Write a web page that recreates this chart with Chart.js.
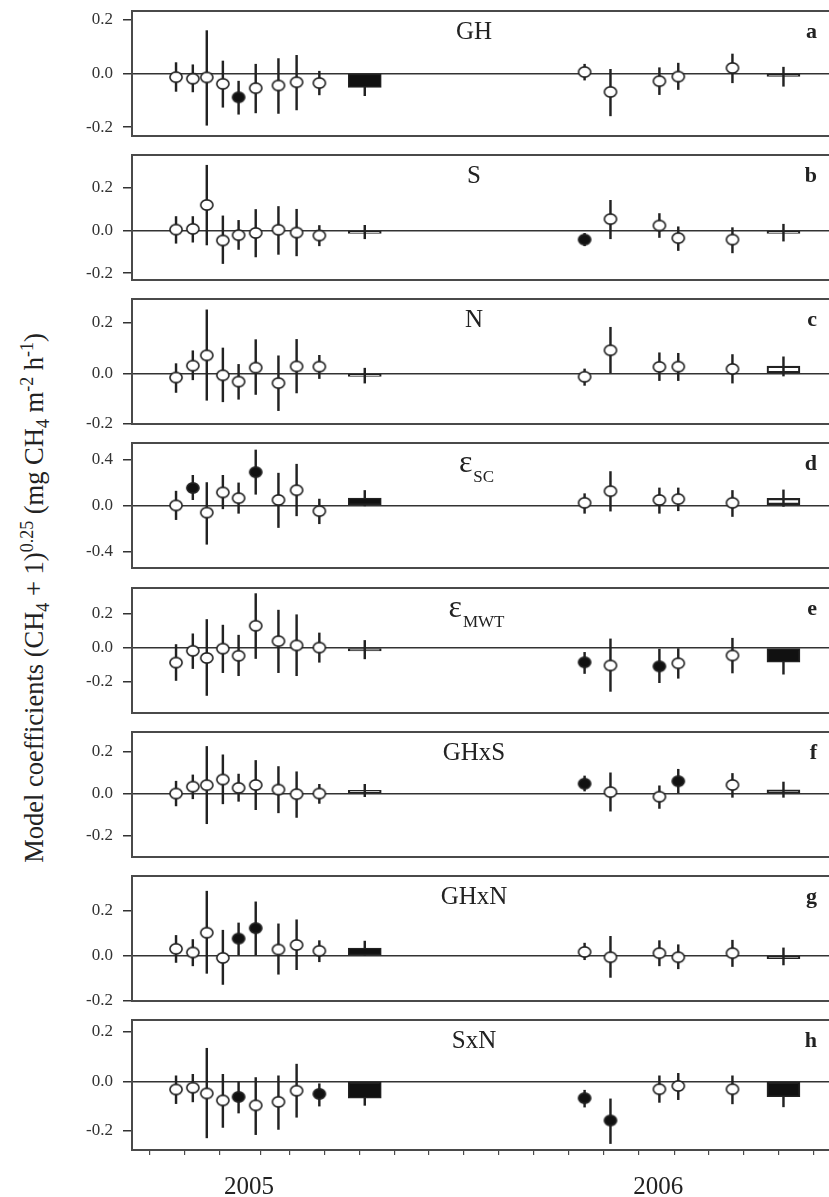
<!DOCTYPE html>
<html>
<head>
<meta charset="utf-8">
<script src="https://cdn.jsdelivr.net/npm/chart.js@4.4.1/dist/chart.umd.min.js"></script>
<style>
  html, body { margin: 0; padding: 0; background: #fff; overflow: hidden; }
  body { width: 829px; height: 1197px; position: relative; }
  canvas { position: absolute; left: 0; }
  #ytitle {
    position: absolute; left: 35px; top: 598px;
    transform: translate(-50%, -50%) rotate(-90deg);
    white-space: nowrap; font: 26.5px "Liberation Serif", serif; color: #222; line-height: 1;
  }
  #ytitle sub, #ytitle sup { font-size: 18px; }
</style>
</head>
<body>
<div id="ytitle">Model coefficients (CH<sub>4</sub> + 1)<sup>0.25</sup> (mg CH<sub>4</sub> m<sup>-2</sup> h<sup>-1</sup>)</div>
<script>
// sampling dates, in x-tick units from the left edge (2005 then 2006)
const sampleX = [1.26, 1.74, 2.14, 2.60, 3.05, 3.54, 4.19, 4.71, 5.36, 12.95, 13.69, 15.09, 15.63, 17.18];
// position of the yearly summary bars
const summaryX = [6.66, 18.64];
const yearLabels = ['2005', '2006'];
const yearX = [3.35, 15.06];

const panelTitles = ['GH', 'S', 'N', 'ε', 'ε', 'GHxS', 'GHxN', 'SxN'];
const panelSubs = ['', '', '', 'SC', 'MWT', '', '', ''];
const panelLetters = ['a', 'b', 'c', 'd', 'e', 'f', 'g', 'h'];

const yTicks = [
  [-0.2, 0, 0.2], [-0.2, 0, 0.2], [-0.2, 0, 0.2], [-0.4, 0, 0.4],
  [-0.2, 0, 0.2], [-0.2, 0, 0.2], [-0.2, 0, 0.2], [-0.2, 0, 0.2]
];
const yMin = [-0.233, -0.232, -0.2, -0.546, -0.382, -0.303, -0.2, -0.277];
const yMax = [0.232, 0.353, 0.295, 0.544, 0.352, 0.294, 0.351, 0.247];

// rows: estimate, lower, upper, significant (1 = filled)
const ghEst = [
  [-0.014, -0.067, 0.040, 0], [-0.020, -0.069, 0.032, 0], [-0.015, -0.193, 0.159, 0],
  [-0.039, -0.126, 0.046, 0], [-0.089, -0.152, -0.029, 1], [-0.055, -0.147, 0.034, 0],
  [-0.045, -0.149, 0.055, 0], [-0.033, -0.136, 0.067, 0], [-0.036, -0.080, 0.008, 0],
  [0.005, -0.025, 0.034, 0], [-0.069, -0.158, 0.015, 0], [-0.029, -0.079, 0.021, 0],
  [-0.012, -0.060, 0.038, 0], [0.020, -0.035, 0.072, 0]
];
const ghBar = [[-0.052, -0.083, -0.021, 1], [-0.011, -0.048, 0.023, 0]];

const sEst = [
  [0.004, -0.060, 0.065, 0], [0.007, -0.055, 0.065, 0], [0.119, -0.068, 0.305, 0],
  [-0.047, -0.155, 0.068, 0], [-0.022, -0.089, 0.047, 0], [-0.012, -0.124, 0.098, 0],
  [0.003, -0.112, 0.112, 0], [-0.010, -0.119, 0.099, 0], [-0.024, -0.072, 0.023, 0],
  [-0.043, -0.072, -0.014, 1], [0.053, -0.039, 0.141, 0], [0.023, -0.033, 0.079, 0],
  [-0.036, -0.094, 0.017, 0], [-0.043, -0.105, 0.013, 0]
];
const sBar = [[-0.004, -0.039, 0.024, 0], [-0.009, -0.050, 0.029, 0]];

const nEst = [
  [-0.016, -0.075, 0.039, 0], [0.031, -0.025, 0.090, 0], [0.072, -0.106, 0.252, 0],
  [-0.007, -0.112, 0.101, 0], [-0.032, -0.102, 0.036, 0], [0.023, -0.083, 0.134, 0],
  [-0.038, -0.147, 0.070, 0], [0.028, -0.077, 0.135, 0], [0.027, -0.020, 0.072, 0],
  [-0.013, -0.047, 0.018, 0], [0.092, 0.000, 0.183, 0], [0.026, -0.028, 0.082, 0],
  [0.027, -0.028, 0.080, 0], [0.018, -0.038, 0.075, 0]
];
const nBar = [[-0.011, -0.038, 0.021, 0], [0.029, -0.010, 0.066, 0]];

const escEst = [
  [0.000, -0.124, 0.124, 0], [0.152, 0.050, 0.262, 1], [-0.063, -0.339, 0.199, 0],
  [0.113, -0.030, 0.262, 0], [0.063, -0.069, 0.196, 0], [0.290, 0.097, 0.483, 1],
  [0.047, -0.193, 0.281, 0], [0.132, -0.091, 0.359, 0], [-0.050, -0.160, 0.055, 0],
  [0.022, -0.069, 0.102, 0], [0.124, -0.050, 0.295, 0], [0.047, -0.069, 0.152, 0],
  [0.055, -0.047, 0.152, 0], [0.022, -0.097, 0.130, 0]
];
const escBar = [[0.063, -0.004, 0.130, 1], [0.061, -0.009, 0.135, 0]];

const emwtEst = [
  [-0.086, -0.191, 0.020, 0], [-0.017, -0.121, 0.083, 0], [-0.059, -0.279, 0.167, 0],
  [-0.004, -0.145, 0.134, 0], [-0.046, -0.163, 0.075, 0], [0.130, -0.062, 0.319, 0],
  [0.040, -0.145, 0.222, 0], [0.015, -0.163, 0.195, 0], [0.002, -0.084, 0.088, 0],
  [-0.084, -0.150, -0.026, 1], [-0.103, -0.255, 0.053, 0], [-0.108, -0.204, -0.007, 1],
  [-0.090, -0.178, -0.004, 0], [-0.044, -0.147, 0.057, 0]
];
const emwtBar = [[-0.008, -0.064, 0.044, 0], [-0.084, -0.154, -0.014, 1]];

const ghsEst = [
  [0.000, -0.059, 0.059, 0], [0.033, -0.025, 0.089, 0], [0.040, -0.144, 0.225, 0],
  [0.067, -0.049, 0.185, 0], [0.027, -0.037, 0.093, 0], [0.041, -0.077, 0.158, 0],
  [0.019, -0.092, 0.129, 0], [-0.003, -0.114, 0.104, 0], [0.000, -0.047, 0.044, 0],
  [0.047, 0.012, 0.084, 1], [0.007, -0.084, 0.099, 0], [-0.015, -0.071, 0.037, 0],
  [0.059, 0.004, 0.116, 1], [0.041, -0.018, 0.096, 0]
];
const ghsBar = [[0.015, -0.015, 0.044, 0], [0.018, -0.018, 0.055, 0]];

const ghnEst = [
  [0.030, -0.030, 0.089, 0], [0.014, -0.045, 0.071, 0], [0.101, -0.078, 0.284, 0],
  [-0.010, -0.127, 0.112, 0], [0.075, 0.000, 0.144, 1], [0.121, 0.003, 0.237, 1],
  [0.027, -0.082, 0.140, 0], [0.047, -0.062, 0.158, 0], [0.021, -0.027, 0.066, 0],
  [0.016, -0.018, 0.055, 0], [-0.007, -0.096, 0.085, 0], [0.011, -0.045, 0.066, 0],
  [-0.007, -0.058, 0.048, 0], [0.011, -0.048, 0.068, 0]
];
const ghnBar = [[0.033, 0.002, 0.064, 1], [-0.003, -0.041, 0.034, 0]];

const snEst = [
  [-0.033, -0.090, 0.022, 0], [-0.026, -0.083, 0.028, 0], [-0.049, -0.228, 0.133, 0],
  [-0.077, -0.186, 0.028, 0], [-0.063, -0.128, 0.000, 1], [-0.097, -0.215, 0.015, 0],
  [-0.083, -0.194, 0.022, 0], [-0.038, -0.145, 0.069, 0], [-0.051, -0.100, -0.010, 1],
  [-0.068, -0.104, -0.036, 1], [-0.158, -0.251, -0.071, 1], [-0.032, -0.085, 0.022, 0],
  [-0.019, -0.074, 0.032, 0], [-0.032, -0.091, 0.022, 0]
];
const snBar = [[-0.068, -0.097, -0.039, 1], [-0.062, -0.103, -0.021, 1]];

const panelEst = [ghEst, sEst, nEst, escEst, emwtEst, ghsEst, ghnEst, snEst];
const panelBar = [ghBar, sBar, nBar, escBar, emwtBar, ghsBar, ghnBar, snBar];

const FONT = '"Liberation Serif", "Times New Roman", serif';
const INK = '#222';
const FRAME = '#4a4a4a';

// ellipse markers (open / filled)
function marker(filled) {
  const c = document.createElement('canvas');
  c.width = 16; c.height = 14;
  const g = c.getContext('2d');
  g.beginPath();
  g.ellipse(8, 7, 6.1, 5.1, 0, 0, Math.PI * 2);
  g.fillStyle = filled ? '#111' : '#fff';
  g.fill();
  g.lineWidth = 1.6;
  g.strokeStyle = INK;
  g.stroke();
  return c;
}
const openDot = marker(false);
const fullDot = marker(true);

// frame, panel title and letter
const panelDecor = {
  id: 'panelDecor',
  afterDatasetsDraw(chart, args, opts) {
    const { ctx, chartArea: a } = chart;
    const i = opts.index;
    ctx.save();
    ctx.strokeStyle = FRAME;
    ctx.lineWidth = 2;
    ctx.strokeRect(a.left, a.top, a.right - a.left, a.bottom - a.top);

    ctx.fillStyle = INK;
    ctx.textBaseline = 'alphabetic';
    if (panelSubs[i]) {
      ctx.font = '32px ' + FONT;
      const w1 = ctx.measureText(panelTitles[i]).width;
      ctx.font = '17px ' + FONT;
      const w2 = ctx.measureText(panelSubs[i]).width;
      const x0 = a.left + 344 - (w1 + w2) / 2;
      ctx.textAlign = 'left';
      ctx.font = '32px ' + FONT;
      ctx.fillText(panelTitles[i], x0, a.top + 29);
      ctx.font = '17px ' + FONT;
      ctx.fillText(panelSubs[i], x0 + w1 + 1, a.top + 39);
    } else {
      ctx.font = '25px ' + FONT;
      ctx.textAlign = 'center';
      ctx.fillText(panelTitles[i], a.left + 342, a.top + 28);
    }
    ctx.font = 'bold 22px ' + FONT;
    ctx.textAlign = 'right';
    ctx.fillText(panelLetters[i], a.right - 14, a.top + 27);
    ctx.restore();
  }
};

const last = panelTitles.length - 1;

panelTitles.forEach((title, i) => {
  const est = panelEst[i];
  const bar = panelBar[i];
  const top = Math.round(6 + i * 144.15);
  const isLast = i === last;

  const cv = document.createElement('canvas');
  cv.width = 837;
  cv.height = isLast ? 1197 - (top - 1) : 137;
  cv.style.top = (top - 1) + 'px';
  document.body.appendChild(cv);

  const points = est.map((r, k) => ({ x: sampleX[k], y: r[0] }));
  const pointStyles = est.map(r => (r[3] ? fullDot : openDot));
  const errors = est.map((r, k) => ({ x: sampleX[k], y: [r[1], r[2]] }))
    .concat(bar.map((r, k) => ({ x: summaryX[k], y: [r[1], r[2]] })));
  const bars = bar.map((r, k) => ({ x: summaryX[k], y: r[0] }));

  new Chart(cv, {
    type: 'bar',
    data: {
      datasets: [
        {
          type: 'line', order: 0, data: points, showLine: false,
          pointStyle: pointStyles, pointRadius: 5
        },
        {
          type: 'bar', order: 1, data: bars, grouped: false, barThickness: 33,
          minBarLength: 3,
          backgroundColor: bar.map(r => (r[3] ? '#111' : 'rgba(0,0,0,0)')),
          borderColor: INK, borderWidth: 1.5, borderSkipped: false
        },
        {
          type: 'bar', order: 2, data: errors, grouped: false, barThickness: 1.8,
          backgroundColor: INK, borderWidth: 0
        }
      ]
    },
    options: {
      responsive: false,
      maintainAspectRatio: false,
      animation: false,
      events: [],
      layout: { padding: { top: 1, bottom: isLast ? 0 : 1, left: 0, right: 4 } },
      plugins: { legend: { display: false }, tooltip: { enabled: false }, panelDecor: { index: i } },
      scales: {
        x: {
          type: 'linear', min: 0, max: 20, offset: false,
          display: isLast,
          border: { display: false },
          grid: {
            drawOnChartArea: false, tickLength: 5, lineWidth: 1.2,
            tickColor: c => (c.tick && yearX.includes(c.tick.value) ? 'rgba(0,0,0,0)' : FRAME)
          },
          afterBuildTicks: axis => {
            const t = [];
            for (let v = 0; v <= 20; v++) t.push({ value: v });
            yearX.forEach(v => t.push({ value: v }));
            axis.ticks = t.sort((p, q) => p.value - q.value);
          },
          afterFit: axis => {
            if (!isLast) return;
            axis.height = 47;
            axis.paddingLeft = 0;
            axis.paddingRight = 0;
          },
          ticks: {
            autoSkip: false, maxRotation: 0, minRotation: 0, padding: 17,
            color: INK, font: { family: FONT, size: 25 },
            callback: v => {
              const k = yearX.indexOf(v);
              return k >= 0 ? yearLabels[k] : '';
            }
          }
        },
        y: {
          type: 'linear', min: yMin[i], max: yMax[i],
          border: { display: false },
          grid: {
            drawTicks: true, tickLength: 9, lineWidth: 1.5,
            color: c => (c.tick && c.tick.value === 0 ? '#333' : 'rgba(0,0,0,0)'),
            tickColor: '#333'
          },
          afterBuildTicks: axis => { axis.ticks = yTicks[i].map(v => ({ value: v })); },
          afterFit: axis => {
            axis.width = 132;
            axis.paddingTop = 0;
            axis.paddingBottom = 0;
          },
          ticks: {
            padding: 10, color: '#333', font: { family: FONT, size: 17 },
            callback: v => Number(v).toFixed(1)
          }
        }
      }
    },
    plugins: [panelDecor]
  });
});
</script>
</body>
</html>
